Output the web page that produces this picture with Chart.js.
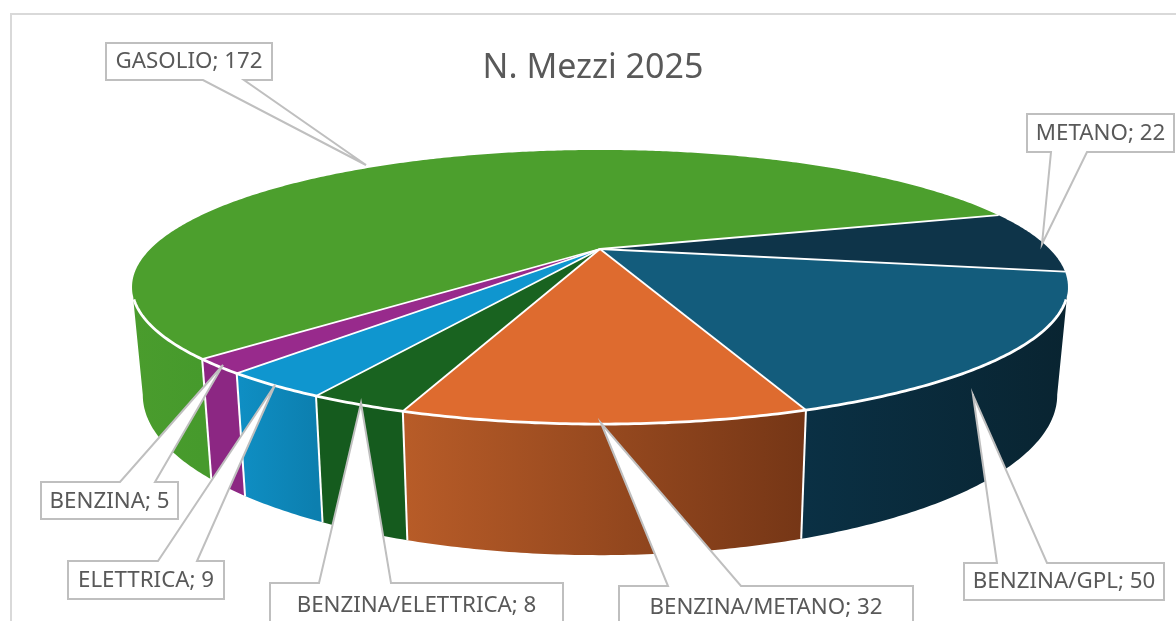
<!DOCTYPE html>
<html>
<head>
<meta charset="utf-8">
<title>N. Mezzi 2025</title>
<script src="https://cdn.jsdelivr.net/npm/chart.js@4"></script>
<style>
    html, body { margin: 0; padding: 0; background: #fff; overflow: hidden; }
    canvas { display: block; }
</style>
</head>
<body>
<canvas id="pie" width="1176" height="621"></canvas>
<script>
// Data
const categories = ['GASOLIO', 'METANO', 'BENZINA/GPL', 'BENZINA/METANO', 'BENZINA/ELETTRICA', 'ELETTRICA', 'BENZINA'];
const vehicleCounts = [172, 22, 50, 32, 8, 9, 5];

// Colours, same order as categories
const topColors = ['#4C9F2D', '#0E3449', '#135C7C', '#DE6B2F', '#196320', '#0F96CF', '#982A8C'];
const wallLeft = ['#4A9C2D', '#0A3044', '#0A3044', '#B85C28', '#155B1E', '#0F8FC4', '#8C2783'];
const wallRight = ['#469A2C', '#092431', '#092431', '#753616', '#155B1E', '#0C7FAF', '#8C2783'];

// Label boxes: x, y, w, h, wedge base on the box edge, wedge tip
const labelBoxes = [
    { x: 106, y: 43, w: 166, h: 37, edge: 'bottom', b1: 203, b2: 244, tipX: 366, tipY: 165 },
    { x: 1027, y: 114, w: 147, h: 38, edge: 'bottom', b1: 1051, b2: 1087, tipX: 1042, tipY: 244 },
    { x: 964, y: 563, w: 200, h: 37, edge: 'top', b1: 997, b2: 1047, tipX: 973, tipY: 395 },
    { x: 619, y: 586, w: 294, h: 50, edge: 'top', b1: 668, b2: 741, tipX: 601, tipY: 423 },
    { x: 270, y: 583, w: 293, h: 50, edge: 'top', b1: 319, b2: 391, tipX: 361, tipY: 403 },
    { x: 68, y: 561, w: 156, h: 38, edge: 'top', b1: 158, b2: 197, tipX: 275, tipY: 385 },
    { x: 41, y: 482, w: 137, h: 37, edge: 'top', b1: 120, b2: 155, tipX: 223, tipY: 365 }
];
const labelFont = '22.3px "Noto Sans"';
const labelTextY = [62, 134, 582, 608, 606, 581, 502];

// Tilted disc with perspective, top face and bottom face
const disc = { cx: 600, cy: 249, a: 449.6, b: 126.5, p: 0.2774, shrink: 0.977, drop: 101.6, bottomB: 147.8 };

// Rim part that faces the viewer, between the two tangent points of the wall
const wallFrom = 16 * Math.PI / 180;
const wallTo = 164 * Math.PI / 180;
const rimFrom = 21 * Math.PI / 180;
const rimTo = 159 * Math.PI / 180;

function project(angle, bottom) {
    const c = Math.cos(angle), s = Math.sin(angle);
    const w = 1 - disc.p * s;
    if (bottom) {
        return { x: disc.cx + disc.shrink * disc.a * c / w, y: disc.cy + disc.drop + disc.bottomB * s / w };
    }
    return { x: disc.cx + disc.a * c / w, y: disc.cy + disc.b * s / w };
}

function traceRim(ctx, from, to, bottom, start) {
    const steps = Math.max(2, Math.ceil(Math.abs(to - from) / 0.01));
    for (let i = 0; i <= steps; i++) {
        const pt = project(from + (to - from) * i / steps, bottom);
        if (i === 0 && start) ctx.moveTo(pt.x, pt.y);
        else ctx.lineTo(pt.x, pt.y);
    }
}

function drawWall(ctx, index, from, to) {
    const left = project(to, false).x;
    const right = project(from, false).x;
    const grad = ctx.createLinearGradient(left, 0, right, 0);
    grad.addColorStop(0, wallLeft[index]);
    grad.addColorStop(1, wallRight[index]);
    ctx.beginPath();
    traceRim(ctx, from, to, false, true);
    traceRim(ctx, to, from, true, false);
    ctx.closePath();
    ctx.fillStyle = grad;
    ctx.fill();
}

const pie3d = {
    id: 'pie3d',
    beforeDraw(chart) {
        const ctx = chart.ctx;
        ctx.save();
        ctx.strokeStyle = '#D9D9D9';
        ctx.lineWidth = 2;
        ctx.beginPath();
        ctx.moveTo(11, 621);
        ctx.lineTo(11, 14);
        ctx.lineTo(1176, 14);
        ctx.stroke();
        ctx.restore();
    },
    beforeDatasetsDraw(chart) {
        const ctx = chart.ctx;
        const arcs = chart.getDatasetMeta(0).data;
        ctx.save();

        // walls, only the part of the rim facing the viewer
        arcs.forEach((arc, i) => {
            [0, Math.PI * 2].forEach(offset => {
                const from = Math.max(arc.startAngle, offset + wallFrom);
                const to = Math.min(arc.endAngle, offset + wallTo);
                if (to > from) drawWall(ctx, i, from, to);
            });
        });

        // white edges between the wall pieces
        ctx.strokeStyle = '#fff';
        ctx.lineWidth = 2;
        arcs.forEach(arc => {
            if (Math.sin(arc.startAngle) <= 0.3) return;
            const top = project(arc.startAngle, false);
            const low = project(arc.startAngle, true);
            ctx.beginPath();
            ctx.moveTo(top.x, top.y);
            ctx.lineTo(low.x, low.y);
            ctx.stroke();
        });

        // top face
        arcs.forEach((arc, i) => {
            ctx.beginPath();
            ctx.moveTo(disc.cx, disc.cy);
            traceRim(ctx, arc.startAngle, arc.endAngle, false, false);
            ctx.closePath();
            ctx.fillStyle = topColors[i];
            ctx.fill();
        });
        ctx.lineWidth = 1.8;
        arcs.forEach(arc => {
            const pt = project(arc.startAngle, false);
            ctx.beginPath();
            ctx.moveTo(disc.cx, disc.cy);
            ctx.lineTo(pt.x, pt.y);
            ctx.stroke();
        });
        ctx.lineWidth = 2.8;
        ctx.beginPath();
        traceRim(ctx, rimFrom, rimTo, false, true);
        ctx.stroke();
        ctx.restore();
        return false;
    },
    afterDraw(chart) {
        const ctx = chart.ctx;
        ctx.save();
        labelBoxes.forEach((box, i) => {
            const edgeY = box.edge === 'top' ? box.y : box.y + box.h;
            ctx.beginPath();
            ctx.moveTo(box.x, box.y);
            if (box.edge === 'top') {
                ctx.lineTo(box.b1, edgeY);
                ctx.lineTo(box.tipX, box.tipY);
                ctx.lineTo(box.b2, edgeY);
            }
            ctx.lineTo(box.x + box.w, box.y);
            ctx.lineTo(box.x + box.w, box.y + box.h);
            if (box.edge === 'bottom') {
                ctx.lineTo(box.b2, edgeY);
                ctx.lineTo(box.tipX, box.tipY);
                ctx.lineTo(box.b1, edgeY);
            }
            ctx.lineTo(box.x, box.y + box.h);
            ctx.closePath();
            ctx.fillStyle = '#fff';
            ctx.fill();
            ctx.strokeStyle = '#BFBFBF';
            ctx.lineWidth = 2;
            ctx.stroke();

            ctx.fillStyle = '#595959';
            ctx.font = labelFont;
            ctx.textAlign = 'center';
            ctx.textBaseline = 'middle';
            ctx.fillText(categories[i] + '; ' + vehicleCounts[i], box.x + box.w / 2, labelTextY[i]);
        });
        ctx.restore();
    }
};

new Chart(document.getElementById('pie'), {
    type: 'pie',
    data: {
        labels: categories,
        datasets: [{
            data: vehicleCounts,
            backgroundColor: topColors
        }]
    },
    options: {
        responsive: false,
        animation: false,
        rotation: 225.45,
        layout: { padding: { left: 10 } },
        plugins: {
            legend: { display: false },
            tooltip: { enabled: false },
            title: {
                display: true,
                text: 'N. Mezzi 2025',
                color: '#595959',
                font: { family: '"Noto Sans"', size: 34, weight: 'normal' },
                padding: { top: 48, bottom: 10 }
            }
        }
    },
    plugins: [pie3d]
});
</script>
</body>
</html>
